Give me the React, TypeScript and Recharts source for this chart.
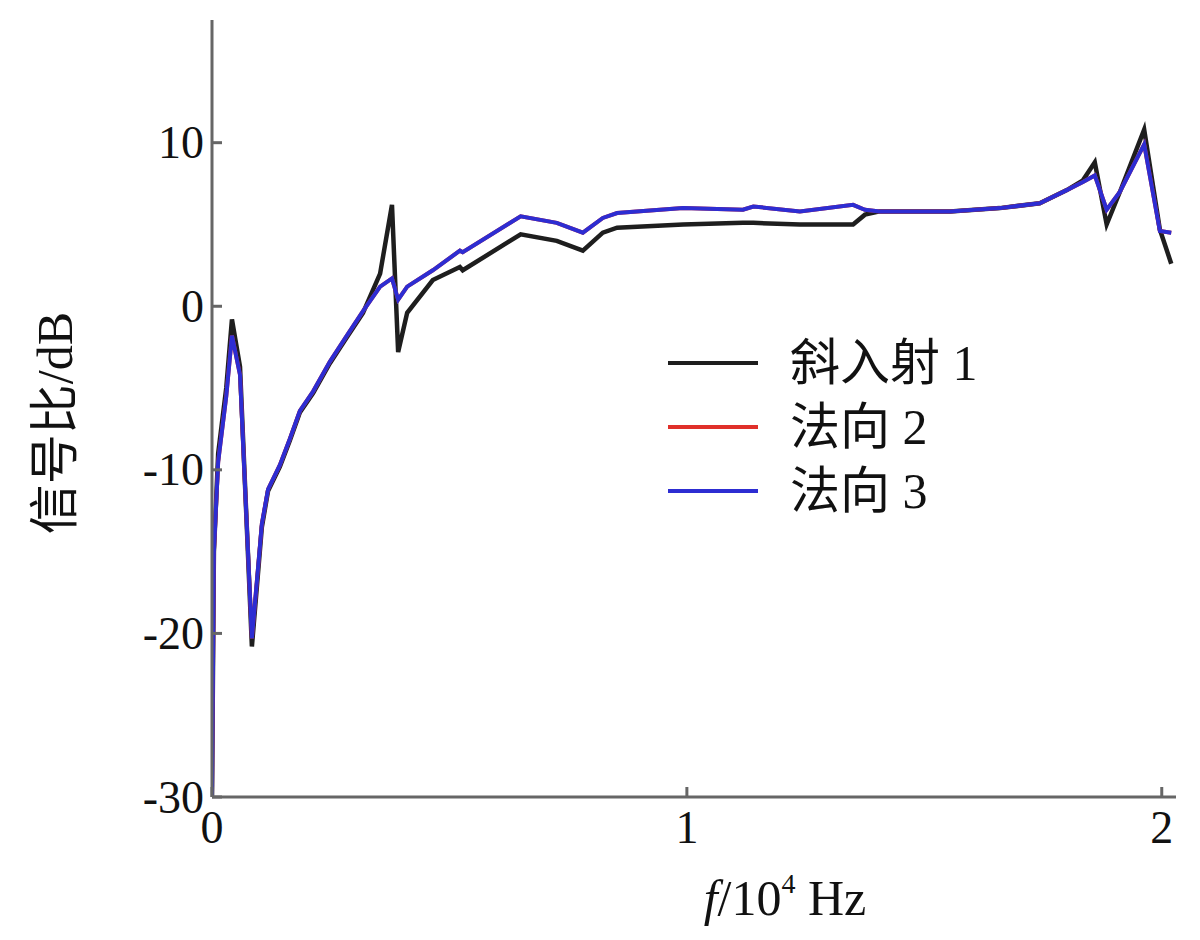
import { LineChart, Line, XAxis, YAxis, Legend } from "recharts";

// frequency in 10^4 Hz
const freq = [
  0, 0.004, 0.013, 0.03, 0.042, 0.059, 0.084, 0.105, 0.118, 0.143, 0.164, 0.185,
  0.213, 0.248, 0.284, 0.318, 0.354, 0.379, 0.392, 0.411, 0.465, 0.522, 0.528,
  0.65, 0.726, 0.781, 0.823, 0.853, 0.992, 1.118, 1.14, 1.238, 1.35, 1.375, 1.406,
  1.554, 1.659, 1.743, 1.8, 1.834, 1.859, 1.884, 1.912, 1.963, 1.996, 2.02,
];

// 斜入射 1
const oblique1 = [
  -30, -15, -9, -5, -0.8, -3.7, -20.8, -13.5, -11.3, -9.8, -8.2, -6.5,
  -5.3, -3.5, -1.9, -0.4, 2.0, 6.2, -2.8, -0.4, 1.6, 2.4, 2.2,
  4.4, 4.0, 3.4, 4.5, 4.8, 5.0, 5.1, 5.1, 5.0, 5.0, 5.6, 5.8,
  5.8, 6.0, 6.3, 7.1, 7.7, 8.8, 5.0, 7.0, 10.8, 4.7, 2.6,
];

// 法向 2 (drawn under 法向 3, the two coincide)
const normal2 = [
  -30, -15, -9.5, -5.5, -1.8, -4.2, -20.3, -13.3, -11.2, -9.7, -8.1, -6.4,
  -5.2, -3.4, -1.8, -0.3, 1.2, 1.7, 0.4, 1.2, 2.2, 3.4, 3.3,
  5.5, 5.1, 4.5, 5.4, 5.7, 6.0, 5.9, 6.1, 5.8, 6.2, 5.9, 5.8,
  5.8, 6.0, 6.3, 7.1, 7.6, 8.0, 5.9, 7.0, 9.9, 4.6, 4.5,
];

// 法向 3
const normal3 = [
  -30, -15, -9.5, -5.5, -1.8, -4.2, -20.3, -13.3, -11.2, -9.7, -8.1, -6.4,
  -5.2, -3.4, -1.8, -0.3, 1.2, 1.7, 0.4, 1.2, 2.2, 3.4, 3.3,
  5.5, 5.1, 4.5, 5.4, 5.7, 6.0, 5.9, 6.1, 5.8, 6.2, 5.9, 5.8,
  5.8, 6.0, 6.3, 7.1, 7.6, 8.0, 5.9, 7.0, 9.9, 4.6, 4.5,
];

const xTicks = [0, 1, 2];
const yTicks = [-30, -20, -10, 0, 10];

const data = freq.map((f, i) => ({
  f,
  a: oblique1[i],
  b: normal2[i],
  c: normal3[i],
}));

const FONT = "'Liberation Serif', 'Noto Sans CJK SC', serif";
const AXIS = "#666";

// @ts-ignore
const YTick = (props) => {
  const { x, y, payload } = props;
  return (
    <g>
      <line x1={x} x2={x + 10} y1={y} y2={y} stroke={AXIS} strokeWidth={3} />
      <text
        x={x - 8}
        y={y}
        textAnchor="end"
        dominantBaseline="central"
        fontSize={46}
        fontFamily={FONT}
        fill="#111"
      >
        {payload.value}
      </text>
    </g>
  );
};

// @ts-ignore
const XTick = (props) => {
  const { x, y, payload } = props;
  return (
    <g>
      <line x1={x} x2={x} y1={y} y2={y - 10} stroke={AXIS} strokeWidth={3} />
      <text
        x={x}
        y={y + 46}
        textAnchor="middle"
        fontSize={46}
        fontFamily={FONT}
        fill="#111"
      >
        {payload.value}
      </text>
    </g>
  );
};

const yLabel = () => (
  <text
    x={55}
    y={423}
    transform="rotate(-90, 55, 423)"
    textAnchor="middle"
    dominantBaseline="central"
    fontSize={50}
    fontFamily={FONT}
    fill="#111"
  >
    信号比/dB
  </text>
);

const xLabel = () => (
  <text x={785} y={915} textAnchor="middle" fontSize={50} fontFamily={FONT} fill="#111">
    <tspan fontStyle="italic">f</tspan>
    <tspan>/10</tspan>
    <tspan fontSize={28} dy={-22}>4</tspan>
    <tspan dy={22}> Hz</tspan>
  </text>
);

// @ts-ignore
const renderLegend = (props) => {
  const { payload } = props;
  return (
    <div style={{ fontFamily: FONT }}>
      {payload.map((entry: any) => (
        <div
          key={entry.value}
          style={{ display: "flex", alignItems: "center", height: 64 }}
        >
          <div style={{ width: 90, height: 4, background: entry.color }} />
          <span style={{ marginLeft: 32, fontSize: 50, color: "#111", lineHeight: "64px" }}>
            {entry.value}
          </span>
        </div>
      ))}
    </div>
  );
};

export default function App() {
  return (
    <div
      style={{
        position: "absolute",
        left: 0,
        top: 0,
        width: 1200,
        height: 940,
        background: "#fff",
      }}
    >
      <LineChart
        width={1200}
        height={940}
        data={data}
        margin={{ top: 20, right: 24, bottom: 0, left: 0 }}
      >
        <XAxis
          dataKey="f"
          type="number"
          domain={[0, 2.03]}
          ticks={xTicks}
          allowDataOverflow
          height={143}
          tickSize={0}
          tickMargin={0}
          tickLine={false}
          tick={XTick}
          axisLine={{ stroke: AXIS, strokeWidth: 3 }}
          label={{ content: xLabel }}
        />
        <YAxis
          type="number"
          domain={[-30, 17.5]}
          ticks={yTicks}
          allowDataOverflow
          width={212}
          tickSize={0}
          tickMargin={0}
          tickLine={false}
          tick={YTick}
          axisLine={{ stroke: AXIS, strokeWidth: 3 }}
          label={{ content: yLabel }}
        />
        <Legend
          layout="vertical"
          align="center"
          verticalAlign="middle"
          content={renderLegend}
          wrapperStyle={{ position: "absolute", left: 668, top: 331, width: 400 }}
        />
        <Line
          type="linear"
          dataKey="a"
          name="斜入射 1"
          stroke="#1e1e1e"
          strokeWidth={4.5}
          dot={false}
          isAnimationActive={false}
        />
        <Line
          type="linear"
          dataKey="b"
          name="法向 2"
          stroke="#e0302a"
          strokeWidth={4}
          dot={false}
          isAnimationActive={false}
        />
        <Line
          type="linear"
          dataKey="c"
          name="法向 3"
          stroke="#2d2dd2"
          strokeWidth={4}
          dot={false}
          isAnimationActive={false}
        />
      </LineChart>
    </div>
  );
}
